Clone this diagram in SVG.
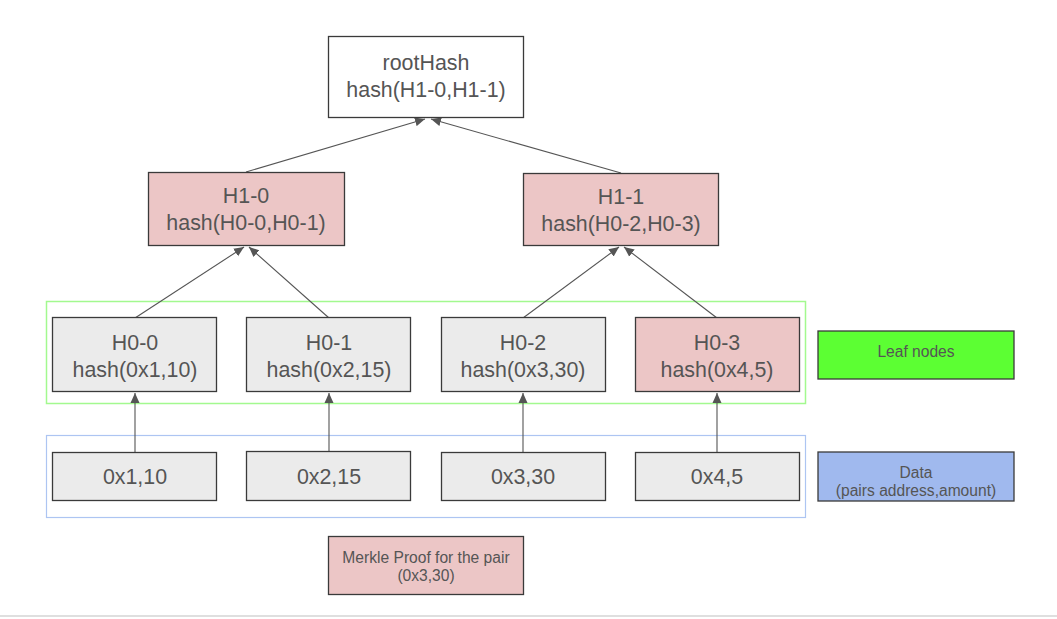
<svg xmlns="http://www.w3.org/2000/svg" width="1057" height="619" viewBox="0 0 1057 619">
  <style>
    .box { stroke: #3a3a3a; stroke-width: 1.3; }
    .plain { fill: #ffffff; }
    .pink { fill: #ecc6c6; }
    .grey { fill: #ebebeb; }
    .t { font-family: "Liberation Sans", Arial, sans-serif; font-size: 21.4px; fill: #555555; text-anchor: middle; }
    .s { font-family: "Liberation Sans", Arial, sans-serif; font-size: 15.6px; fill: #555555; text-anchor: middle; }
    .edge { stroke: #555555; stroke-width: 1.1; fill: none; marker-end: url(#arrow); }
  </style>
  <defs>
    <marker id="arrow" viewBox="0 0 10 10" refX="10" refY="5" markerWidth="10" markerHeight="10" markerUnits="userSpaceOnUse" orient="auto">
      <path d="M0,0.5 L10,5 L0,9.5 Z" fill="#555555"/>
    </marker>
  </defs>

  <rect width="1057" height="619" fill="#ffffff"/>

  <!-- group frames -->
  <g id="leaf-group">
    <rect x="46.5" y="301.5" width="759" height="102" fill="none" stroke="#a3f98f" stroke-width="1.5"/>
  </g>
  <g id="data-group">
    <rect x="46.5" y="435.5" width="759" height="82" fill="none" stroke="#adc5f2" stroke-width="1.2"/>
  </g>

  <!-- connectors -->
  <g id="connectors">
    <line class="edge" x1="246" y1="172" x2="425" y2="119"/>
    <line class="edge" x1="621" y1="173" x2="431" y2="119"/>
    <line class="edge" x1="135" y1="318" x2="244" y2="247"/>
    <line class="edge" x1="329" y1="318" x2="249" y2="247"/>
    <line class="edge" x1="523" y1="318" x2="619" y2="247"/>
    <line class="edge" x1="717" y1="318" x2="624" y2="247"/>
    <line class="edge" x1="135" y1="452" x2="135" y2="393"/>
    <line class="edge" x1="329" y1="451" x2="329" y2="393"/>
    <line class="edge" x1="523" y1="452" x2="523" y2="393"/>
    <line class="edge" x1="717" y1="452" x2="717" y2="393"/>
  </g>

  <!-- tree nodes -->
  <g id="root">
    <rect class="box plain" x="328.5" y="36.5" width="195" height="81"/>
    <text class="t" x="426" y="70">rootHash</text>
    <text class="t" x="426" y="97">hash(H1-0,H1-1)</text>
  </g>
  <g id="h1-0">
    <rect class="box pink" x="148.5" y="172.5" width="196" height="73"/>
    <text class="t" x="246" y="203">H1-0</text>
    <text class="t" x="246" y="230">hash(H0-0,H0-1)</text>
  </g>
  <g id="h1-1">
    <rect class="box pink" x="523.5" y="173.5" width="195" height="72"/>
    <text class="t" x="621" y="204">H1-1</text>
    <text class="t" x="621" y="231">hash(H0-2,H0-3)</text>
  </g>

  <g id="h0-0">
    <rect class="box grey" x="52.5" y="317.5" width="164" height="74"/>
    <text class="t" x="135" y="350">H0-0</text>
    <text class="t" x="135" y="377">hash(0x1,10)</text>
  </g>
  <g id="h0-1">
    <rect class="box grey" x="246.5" y="317.5" width="164" height="74"/>
    <text class="t" x="329" y="350">H0-1</text>
    <text class="t" x="329" y="377">hash(0x2,15)</text>
  </g>
  <g id="h0-2">
    <rect class="box grey" x="441.5" y="317.5" width="164" height="74"/>
    <text class="t" x="523" y="350">H0-2</text>
    <text class="t" x="523" y="377">hash(0x3,30)</text>
  </g>
  <g id="h0-3">
    <rect class="box pink" x="635.5" y="317.5" width="164" height="74"/>
    <text class="t" x="717" y="350">H0-3</text>
    <text class="t" x="717" y="377">hash(0x4,5)</text>
  </g>

  <!-- data pairs -->
  <g id="d0">
    <rect class="box grey" x="52.5" y="452.5" width="164" height="48"/>
    <text class="t" x="135" y="484">0x1,10</text>
  </g>
  <g id="d1">
    <rect class="box grey" x="246.5" y="451.5" width="164" height="49"/>
    <text class="t" x="329" y="484">0x2,15</text>
  </g>
  <g id="d2">
    <rect class="box grey" x="441.5" y="452.5" width="164" height="48"/>
    <text class="t" x="523" y="484">0x3,30</text>
  </g>
  <g id="d3">
    <rect class="box grey" x="635.5" y="452.5" width="164" height="48"/>
    <text class="t" x="717" y="484">0x4,5</text>
  </g>

  <!-- legend -->
  <g id="legend-leaf">
    <rect class="box" x="818" y="331" width="196" height="48" fill="#5cff33"/>
    <text class="s" x="916" y="357">Leaf nodes</text>
  </g>
  <g id="legend-data">
    <rect class="box" x="818" y="452" width="196" height="49" fill="#a0b9ee"/>
    <text class="s" x="916" y="478">Data</text>
    <text class="s" x="916" y="496">(pairs address,amount)</text>
  </g>
  <g id="legend-proof">
    <rect class="box pink" x="328.5" y="536.5" width="195" height="58"/>
    <text class="s" x="426" y="563">Merkle Proof for the pair</text>
    <text class="s" x="426" y="581">(0x3,30)</text>
  </g>

  <!-- page edge -->
  <line x1="0" y1="616" x2="1057" y2="616" stroke="#d4d4d4" stroke-width="1.5"/>
</svg>
